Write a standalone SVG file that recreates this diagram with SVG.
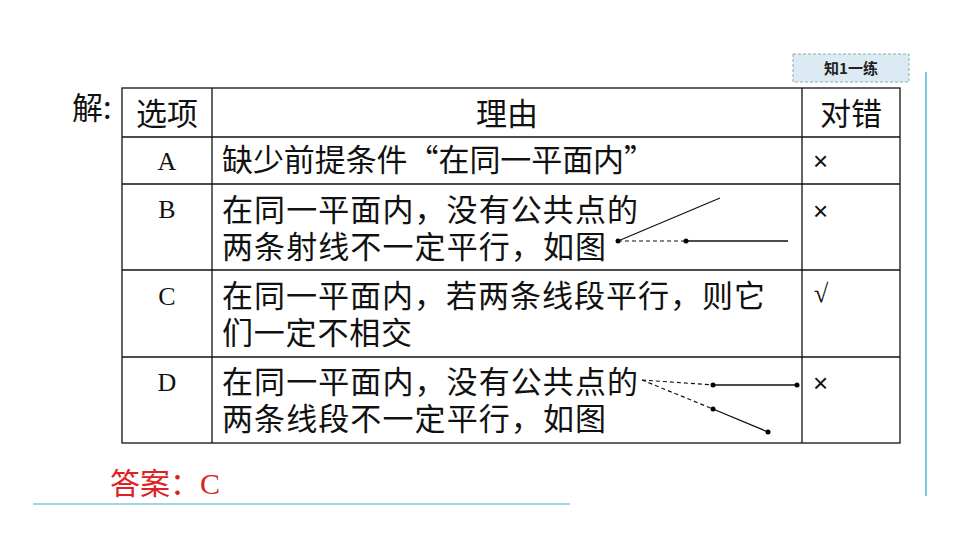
<svg xmlns="http://www.w3.org/2000/svg" width="960" height="540" viewBox="0 0 960 540">
<style>
.c{font-family:"Noto Sans CJK SC","Noto Sans",sans-serif;font-size:31px;fill:#111}
.s{font-family:"Liberation Serif",serif;font-size:26px;fill:#111}
.x{font-family:"Liberation Sans",sans-serif;font-size:26px;fill:#111}
.g{stroke:#111;stroke-width:1.3;fill:none}
.d{stroke:#111;stroke-width:1.2;stroke-dasharray:4 3;fill:none}
</style>
<rect width="960" height="540" fill="#fff"/>
<g id="tag"><rect x="793" y="54" width="116" height="28" fill="#dcebf3" stroke="#8aa" stroke-dasharray="3 2"/>
<text x="851" y="74" text-anchor="middle" font-family="Noto Sans CJK SC,sans-serif" font-size="15" font-weight="bold" fill="#222">知1一练</text></g>
<line x1="926" y1="72" x2="926" y2="496" stroke="#7cc8dc" stroke-width="2"/>
<line x1="33" y1="504" x2="570" y2="504" stroke="#7cc8dc" stroke-width="1.5"/>
<text class="c" x="72" y="119">解:</text>
<g id="table" stroke="#111" stroke-width="1.3" fill="none">
<rect x="122" y="88" width="778" height="355"/>
<line x1="212" y1="88" x2="212" y2="443"/><line x1="802" y1="88" x2="802" y2="443"/>
<line x1="122" y1="137" x2="900" y2="137"/><line x1="122" y1="184" x2="900" y2="184"/>
<line x1="122" y1="270" x2="900" y2="270"/><line x1="122" y1="357" x2="900" y2="357"/>
</g>
<g id="texts">
<text class="c" x="167" y="125" text-anchor="middle">选项</text>
<text class="c" x="507" y="125" text-anchor="middle">理由</text>
<text class="c" x="851" y="125" text-anchor="middle">对错</text>
<text class="s" x="167" y="170" text-anchor="middle">A</text>
<text class="s" x="167" y="218" text-anchor="middle">B</text>
<text class="s" x="167" y="305" text-anchor="middle">C</text>
<text class="s" x="167" y="391" text-anchor="middle">D</text>
<text class="c" x="222" y="171" textLength="433">缺少前提条件“在同一平面内”</text>
<text class="c" x="222" y="221" textLength="416">在同一平面内，没有公共点的</text>
<text class="c" x="222" y="258" textLength="384">两条射线不一定平行，如图</text>
<text class="c" x="222" y="307" textLength="543">在同一平面内，若两条线段平行，则它</text>
<text class="c" x="222" y="344" textLength="190">们一定不相交</text>
<text class="c" x="222" y="393" textLength="416">在同一平面内，没有公共点的</text>
<text class="c" x="222" y="430" textLength="384">两条线段不一定平行，如图</text>
<text class="x" x="813" y="170">×</text>
<text class="x" x="813" y="220">×</text>
<text class="s" x="814" y="302">√</text>
<text class="x" x="813" y="392">×</text>
</g>
<g id="figB"><line class="g" x1="618" y1="241" x2="720" y2="198"/><line class="d" x1="618" y1="241" x2="686" y2="241"/><line class="g" x1="686" y1="241" x2="788" y2="241"/><circle cx="618" cy="241" r="2.5"/><circle cx="686" cy="241" r="2.5"/></g>
<g id="figD"><line class="d" x1="642" y1="380" x2="713" y2="385"/><line class="g" x1="713" y1="385" x2="797" y2="385"/><line class="d" x1="642" y1="380" x2="713" y2="409"/><line class="g" x1="713" y1="409" x2="768" y2="432"/>
<circle cx="713" cy="385" r="2.5"/><circle cx="797" cy="385" r="2.5"/><circle cx="713" cy="409" r="2.5"/><circle cx="768" cy="432" r="2.5"/></g>
<text x="110" y="494" font-family="Noto Sans CJK SC,sans-serif" font-size="30" fill="#e02020">答案：<tspan font-family="Liberation Serif,serif">C</tspan></text>
</svg>
